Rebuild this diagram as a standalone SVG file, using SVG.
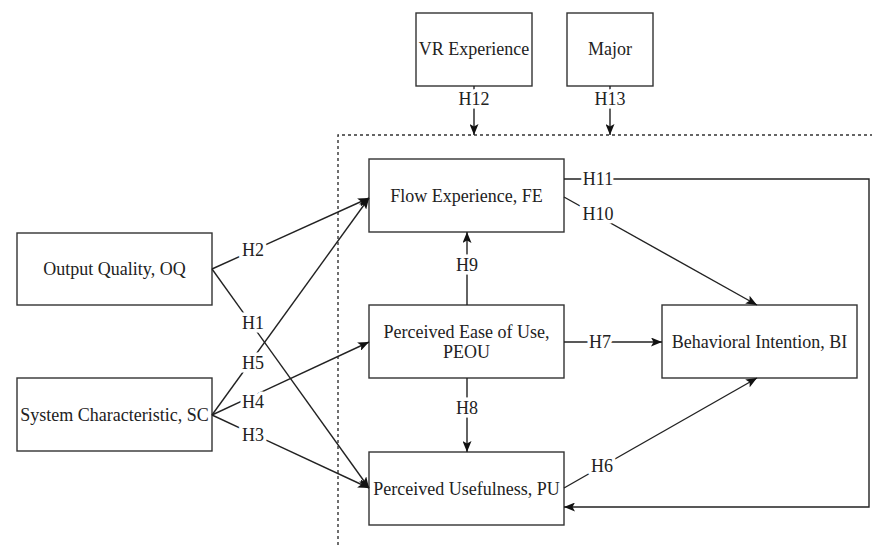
<svg xmlns="http://www.w3.org/2000/svg" width="872" height="545" viewBox="0 0 872 545">
<style>
.box{fill:#fff;stroke:#333;stroke-width:1.4}
.t{font-family:"Liberation Serif","Times New Roman",serif;font-size:18px;fill:#222;text-anchor:middle}
.ln{fill:none;stroke:#222;stroke-width:1.4}
.lb{font-family:"Liberation Serif","Times New Roman",serif;font-size:18px;fill:#222;text-anchor:middle;stroke:#fff;stroke-width:7;paint-order:stroke;stroke-linejoin:round}
.dash{fill:none;stroke:#333;stroke-width:1.4;stroke-dasharray:3 3}
</style>
<defs>
<marker id="a" markerUnits="userSpaceOnUse" markerWidth="11" markerHeight="9" viewBox="0 0 11 9" refX="11" refY="4.5" orient="auto">
<path d="M0,0 L11,4.5 L0,9 L2.5,4.5 z" fill="#111"/>
</marker>
</defs>
<rect width="872" height="545" fill="#fff"/>
<g id="frame">
<path class="dash" d="M338,545 V135 H872"/>
</g>
<g id="vr"><rect class="box" x="416" y="13" width="116" height="73"/><text class="t" x="474" y="55">VR Experience</text></g>
<g id="major"><rect class="box" x="567" y="13" width="86" height="73"/><text class="t" x="610" y="55">Major</text></g>
<g id="oq"><rect class="box" x="17" y="233" width="195" height="72"/><text class="t" x="114.5" y="275">Output Quality, OQ</text></g>
<g id="sc"><rect class="box" x="17" y="378" width="195" height="73"/><text class="t" x="114.5" y="420.5">System Characteristic, SC</text></g>
<g id="fe"><rect class="box" x="369" y="159" width="195" height="73"/><text class="t" x="466.5" y="201.5">Flow Experience, FE</text></g>
<g id="peou"><rect class="box" x="369" y="305" width="195" height="73"/><text class="t" x="466.5" y="338">Perceived Ease of Use,</text><text class="t" x="466.5" y="358">PEOU</text></g>
<g id="pu"><rect class="box" x="369" y="452" width="195" height="73"/><text class="t" x="466.5" y="495">Perceived Usefulness, PU</text></g>
<g id="bi"><rect class="box" x="662" y="305" width="195" height="73"/><text class="t" x="759.5" y="348">Behavioral Intention, BI</text></g>
<g id="connectors">
<path class="ln" marker-end="url(#a)" d="M474,86 V135"/>
<path class="ln" marker-end="url(#a)" d="M610,86 V135"/>
<path class="ln" marker-end="url(#a)" d="M212,269 L369,198"/>
<path class="ln" marker-end="url(#a)" d="M212,269 L369,488"/>
<path class="ln" marker-end="url(#a)" d="M212,415 L369,198"/>
<path class="ln" marker-end="url(#a)" d="M212,415 L369,342"/>
<path class="ln" marker-end="url(#a)" d="M212,415 L369,488"/>
<path class="ln" marker-end="url(#a)" d="M467,305 V232"/>
<path class="ln" marker-end="url(#a)" d="M467,378 V452"/>
<path class="ln" marker-end="url(#a)" d="M564,342 H662"/>
<path class="ln" marker-end="url(#a)" d="M564,197 L757,305"/>
<path class="ln" marker-end="url(#a)" d="M564,488 L757,378"/>
<path class="ln" marker-end="url(#a)" d="M564,179 H869 V507 H564"/>
<text class="lb" x="474" y="105">H12</text>
<text class="lb" x="610" y="105">H13</text>
<text class="lb" x="253" y="256">H2</text>
<text class="lb" x="253" y="329">H1</text>
<text class="lb" x="253" y="369">H5</text>
<text class="lb" x="253" y="408">H4</text>
<text class="lb" x="253" y="441">H3</text>
<text class="lb" x="467" y="271">H9</text>
<text class="lb" x="467" y="414">H8</text>
<text class="lb" x="600" y="348">H7</text>
<text class="lb" x="598" y="220">H10</text>
<text class="lb" x="598" y="185">H11</text>
<text class="lb" x="602" y="472">H6</text>
</g>
</svg>
